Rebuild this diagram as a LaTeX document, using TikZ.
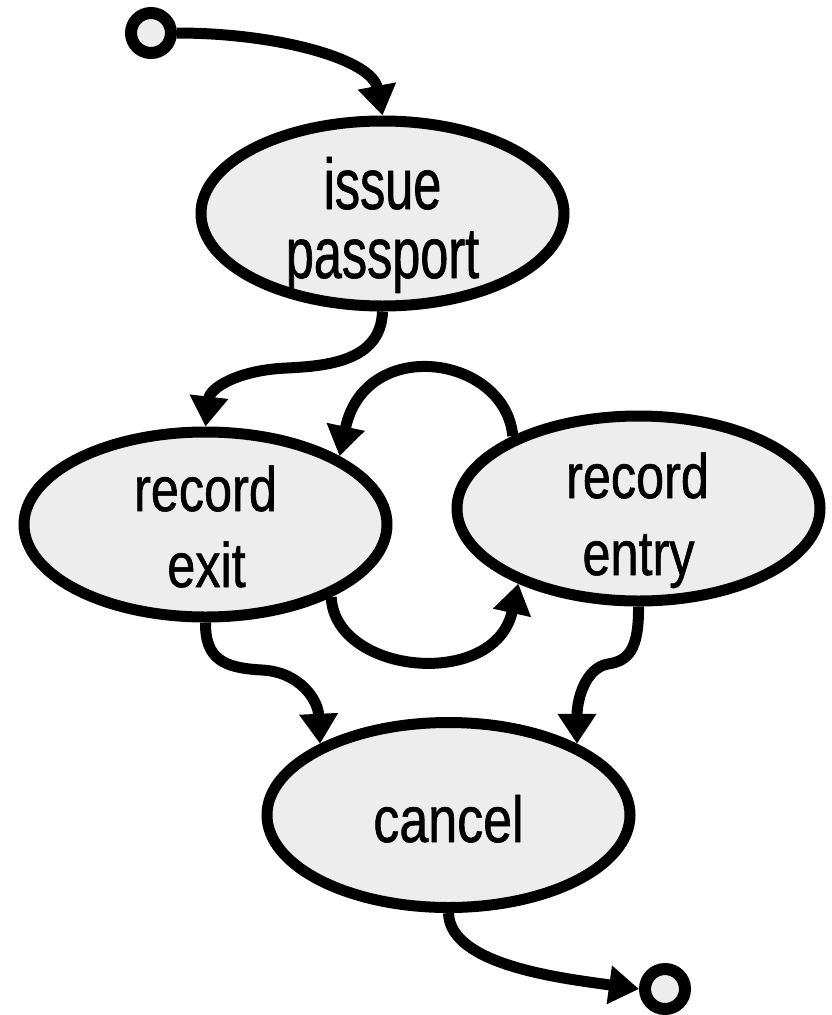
\documentclass[tikz,border=0pt]{standalone}
\usepackage{fontspec}
\newfontfamily\narrowsans[FakeStretch=0.80,FakeBold=0.9]{Liberation Sans}
\newfontfamily\tallsans[FakeStretch=0.70,FakeBold=0.9]{Liberation Sans}
\usetikzlibrary{shapes.geometric,arrows.meta,calc}
\definecolor{statefill}{RGB}{237,237,237}
\tikzset{
  state/.style={ellipse, draw=black, line width=11pt, fill=statefill,
    minimum width=363pt, minimum height=185pt, inner sep=0pt},
  terminal/.style={circle, draw=black, line width=12pt, fill=statefill,
    minimum size=40pt, inner sep=0pt},
  flow/.style={line width=11pt, -{Triangle[length=30pt,width=37pt]}},
  bigword/.style={font=\tallsans\fontsize{72pt}{72pt}\selectfont,
    inner sep=0pt, anchor=base},
  word/.style={font=\narrowsans\fontsize{63pt}{63pt}\selectfont,
    inner sep=0pt, anchor=base},
  cword/.style={font=\narrowsans\fontsize{65pt}{65pt}\selectfont,
    inner sep=0pt, anchor=base},
}
\begin{document}
\begin{tikzpicture}[x=1pt,y=-1pt]
  \useasboundingbox (0,0) rectangle (831,1015);

  % states
  \node[state] (ip) at (382.5,213.5) {};
  \node[state] (rx) at (205.5,524.5) {};
  \node[state] (re) at (638.5,508.5) {};
  \node[state] (c)  at (448.5,815) {};

  % start and end markers
  \node[terminal] (s) at (151,33) {};
  \node[terminal] (e) at (665,989) {};

  % state labels
  \node[bigword] (ip1) at ($(ip.center)+(0,-4.5)$) {issue};
  \node[bigword] (ip2) at ($(ip.center)+(0,64.5)$) {passport};
  \node[word] (rx1) at ($(rx.center)+(0,-13.5)$) {record};
  \node[word] (rx2) at ($(rx.center)+(1,62.5)$) {exit};
  \node[word] (re1) at ($(re.center)+(-1,-10.5)$) {record};
  \node[word] (re2) at ($(re.center)+(0,66.5)$) {entry};
  \node[cword] (c1) at ($(c.center)+(0,27)$) {cancel};

  % transitions
  \draw[flow] (s.east) .. controls (280,33) and (372,60) .. (ip.north);
  \draw[flow] (ip.south) .. controls (381,362) and (325,366) .. (287,368)
              .. controls (238,370) and (210,388) .. (rx.north);
  \draw[flow] (re.150) .. controls (505,355) and (365,335) .. (rx.27);
  \draw[flow] (rx.-30) .. controls (335,675) and (495,690) .. (re.212);
  \draw[flow] (rx.south) .. controls (205,660) and (225,668) .. (262,670)
              .. controls (300,672) and (318,700) .. (c.151);
  \draw[flow] (re.south) .. controls (639,650) and (628,661) .. (608,664)
              .. controls (585,668) and (577,700) .. (c.29);
  \draw[flow] (c.south) .. controls (450,965) and (560,978) .. (e.west);
\end{tikzpicture}
\end{document}
